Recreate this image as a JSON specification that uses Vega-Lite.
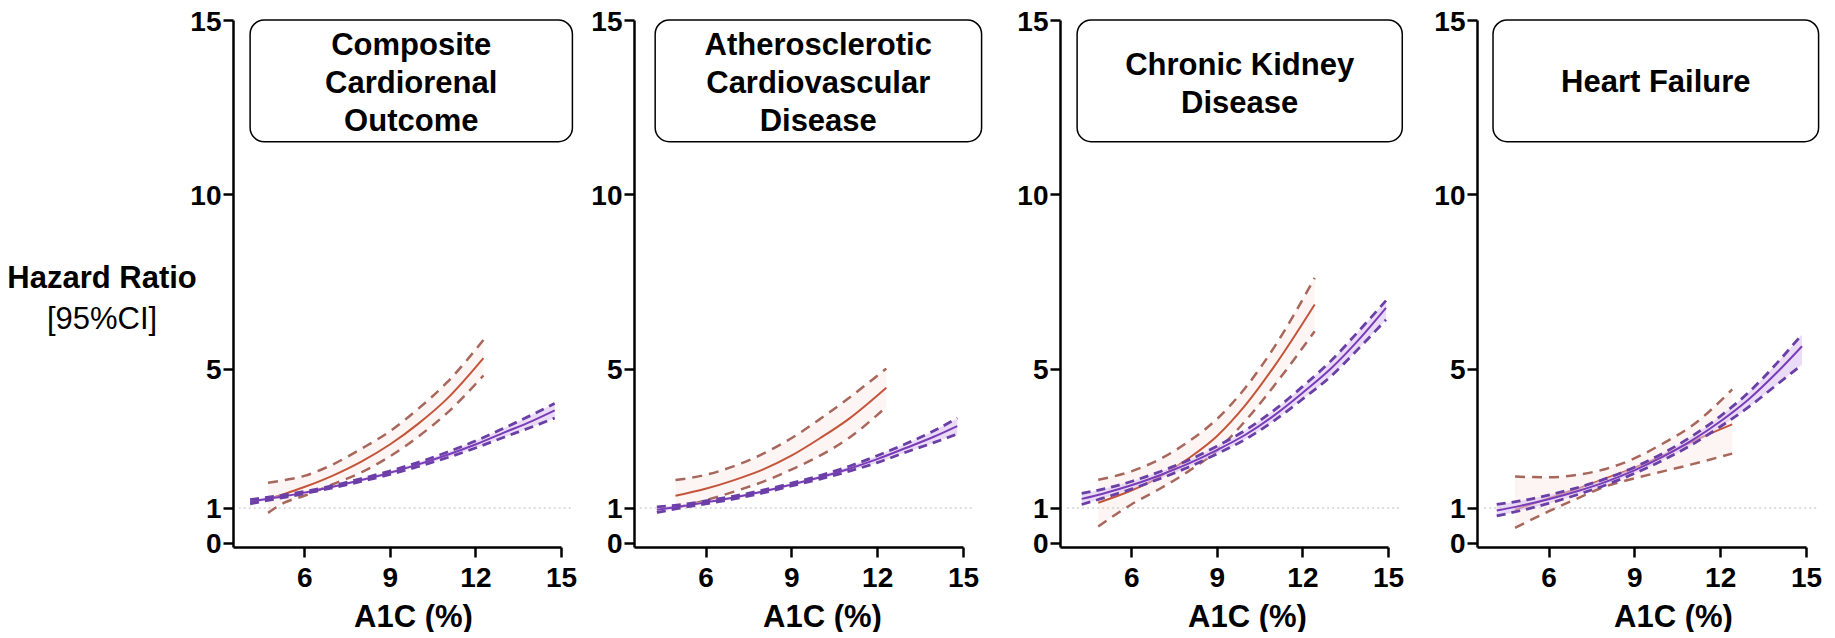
{
  "$schema": "https://vega.github.io/schema/vega-lite/v6.json",
  "background": "white",
  "padding": {"left": 0, "top": 8, "right": 0, "bottom": 0},
  "spacing": 0,
  "bounds": "flush",
  "datasets": {
    "curves": [
      {"outcome": "Composite Cardiorenal Outcome", "series": "A", "a1c": 4.73, "hr": 1.25, "lo": 0.86, "hi": 1.72},
      {"outcome": "Composite Cardiorenal Outcome", "series": "A", "a1c": 5.3, "hr": 1.4, "lo": 1.15, "hi": 1.8},
      {"outcome": "Composite Cardiorenal Outcome", "series": "A", "a1c": 6, "hr": 1.6, "lo": 1.35, "hi": 1.92},
      {"outcome": "Composite Cardiorenal Outcome", "series": "A", "a1c": 7, "hr": 1.93, "lo": 1.68, "hi": 2.25},
      {"outcome": "Composite Cardiorenal Outcome", "series": "A", "a1c": 8, "hr": 2.33, "lo": 2.02, "hi": 2.7},
      {"outcome": "Composite Cardiorenal Outcome", "series": "A", "a1c": 9, "hr": 2.82, "lo": 2.48, "hi": 3.2},
      {"outcome": "Composite Cardiorenal Outcome", "series": "A", "a1c": 10, "hr": 3.42, "lo": 3.05, "hi": 3.85},
      {"outcome": "Composite Cardiorenal Outcome", "series": "A", "a1c": 11, "hr": 4.13, "lo": 3.72, "hi": 4.6},
      {"outcome": "Composite Cardiorenal Outcome", "series": "A", "a1c": 12.28, "hr": 5.3, "lo": 4.8, "hi": 5.82},
      {"outcome": "Composite Cardiorenal Outcome", "series": "B", "a1c": 4.1, "hr": 1.18, "lo": 1.12, "hi": 1.24},
      {"outcome": "Composite Cardiorenal Outcome", "series": "B", "a1c": 5, "hr": 1.3, "lo": 1.26, "hi": 1.34},
      {"outcome": "Composite Cardiorenal Outcome", "series": "B", "a1c": 6, "hr": 1.44, "lo": 1.41, "hi": 1.47},
      {"outcome": "Composite Cardiorenal Outcome", "series": "B", "a1c": 7, "hr": 1.61, "lo": 1.58, "hi": 1.64},
      {"outcome": "Composite Cardiorenal Outcome", "series": "B", "a1c": 8, "hr": 1.8, "lo": 1.76, "hi": 1.84},
      {"outcome": "Composite Cardiorenal Outcome", "series": "B", "a1c": 9, "hr": 2.01, "lo": 1.96, "hi": 2.06},
      {"outcome": "Composite Cardiorenal Outcome", "series": "B", "a1c": 10, "hr": 2.25, "lo": 2.19, "hi": 2.31},
      {"outcome": "Composite Cardiorenal Outcome", "series": "B", "a1c": 11, "hr": 2.52, "lo": 2.44, "hi": 2.6},
      {"outcome": "Composite Cardiorenal Outcome", "series": "B", "a1c": 12, "hr": 2.82, "lo": 2.72, "hi": 2.92},
      {"outcome": "Composite Cardiorenal Outcome", "series": "B", "a1c": 13, "hr": 3.16, "lo": 3.03, "hi": 3.29},
      {"outcome": "Composite Cardiorenal Outcome", "series": "B", "a1c": 14, "hr": 3.5, "lo": 3.33, "hi": 3.68},
      {"outcome": "Composite Cardiorenal Outcome", "series": "B", "a1c": 14.78, "hr": 3.8, "lo": 3.58, "hi": 4.0},
      {"outcome": "Atherosclerotic Cardiovascular Disease", "series": "A", "a1c": 4.95, "hr": 1.35, "lo": 1.0, "hi": 1.8},
      {"outcome": "Atherosclerotic Cardiovascular Disease", "series": "A", "a1c": 6, "hr": 1.55, "lo": 1.22, "hi": 1.95},
      {"outcome": "Atherosclerotic Cardiovascular Disease", "series": "A", "a1c": 7, "hr": 1.8, "lo": 1.47, "hi": 2.2},
      {"outcome": "Atherosclerotic Cardiovascular Disease", "series": "A", "a1c": 8, "hr": 2.1, "lo": 1.75, "hi": 2.55},
      {"outcome": "Atherosclerotic Cardiovascular Disease", "series": "A", "a1c": 9, "hr": 2.5, "lo": 2.1, "hi": 3.0},
      {"outcome": "Atherosclerotic Cardiovascular Disease", "series": "A", "a1c": 10, "hr": 3.0, "lo": 2.5, "hi": 3.55},
      {"outcome": "Atherosclerotic Cardiovascular Disease", "series": "A", "a1c": 11, "hr": 3.55, "lo": 3.0, "hi": 4.15},
      {"outcome": "Atherosclerotic Cardiovascular Disease", "series": "A", "a1c": 12.32, "hr": 4.45, "lo": 3.9, "hi": 5.0},
      {"outcome": "Atherosclerotic Cardiovascular Disease", "series": "B", "a1c": 4.3, "hr": 0.95, "lo": 0.87, "hi": 1.03},
      {"outcome": "Atherosclerotic Cardiovascular Disease", "series": "B", "a1c": 5, "hr": 1.03, "lo": 0.98, "hi": 1.08},
      {"outcome": "Atherosclerotic Cardiovascular Disease", "series": "B", "a1c": 6, "hr": 1.16, "lo": 1.12, "hi": 1.2},
      {"outcome": "Atherosclerotic Cardiovascular Disease", "series": "B", "a1c": 7, "hr": 1.3, "lo": 1.26, "hi": 1.34},
      {"outcome": "Atherosclerotic Cardiovascular Disease", "series": "B", "a1c": 8, "hr": 1.47, "lo": 1.43, "hi": 1.51},
      {"outcome": "Atherosclerotic Cardiovascular Disease", "series": "B", "a1c": 9, "hr": 1.67, "lo": 1.63, "hi": 1.71},
      {"outcome": "Atherosclerotic Cardiovascular Disease", "series": "B", "a1c": 10, "hr": 1.88, "lo": 1.83, "hi": 1.93},
      {"outcome": "Atherosclerotic Cardiovascular Disease", "series": "B", "a1c": 11, "hr": 2.12, "lo": 2.05, "hi": 2.19},
      {"outcome": "Atherosclerotic Cardiovascular Disease", "series": "B", "a1c": 12, "hr": 2.4, "lo": 2.3, "hi": 2.5},
      {"outcome": "Atherosclerotic Cardiovascular Disease", "series": "B", "a1c": 13, "hr": 2.72, "lo": 2.6, "hi": 2.84},
      {"outcome": "Atherosclerotic Cardiovascular Disease", "series": "B", "a1c": 14, "hr": 3.05, "lo": 2.88, "hi": 3.22},
      {"outcome": "Atherosclerotic Cardiovascular Disease", "series": "B", "a1c": 14.8, "hr": 3.35, "lo": 3.12, "hi": 3.58},
      {"outcome": "Chronic Kidney Disease", "series": "A", "a1c": 4.84, "hr": 1.15, "lo": 0.47, "hi": 1.81},
      {"outcome": "Chronic Kidney Disease", "series": "A", "a1c": 6, "hr": 1.5, "lo": 1.1, "hi": 2.05},
      {"outcome": "Chronic Kidney Disease", "series": "A", "a1c": 7, "hr": 1.9, "lo": 1.55, "hi": 2.4},
      {"outcome": "Chronic Kidney Disease", "series": "A", "a1c": 8, "hr": 2.42, "lo": 2.05, "hi": 2.9},
      {"outcome": "Chronic Kidney Disease", "series": "A", "a1c": 9, "hr": 3.06, "lo": 2.65, "hi": 3.55},
      {"outcome": "Chronic Kidney Disease", "series": "A", "a1c": 10, "hr": 3.95, "lo": 3.5, "hi": 4.45},
      {"outcome": "Chronic Kidney Disease", "series": "A", "a1c": 11, "hr": 5.05, "lo": 4.5, "hi": 5.6},
      {"outcome": "Chronic Kidney Disease", "series": "A", "a1c": 12.43, "hr": 6.84, "lo": 6.07, "hi": 7.6},
      {"outcome": "Chronic Kidney Disease", "series": "B", "a1c": 4.26, "hr": 1.26, "lo": 1.1, "hi": 1.42},
      {"outcome": "Chronic Kidney Disease", "series": "B", "a1c": 5, "hr": 1.41, "lo": 1.28, "hi": 1.54},
      {"outcome": "Chronic Kidney Disease", "series": "B", "a1c": 6, "hr": 1.65, "lo": 1.54, "hi": 1.76},
      {"outcome": "Chronic Kidney Disease", "series": "B", "a1c": 7, "hr": 1.94, "lo": 1.84, "hi": 2.04},
      {"outcome": "Chronic Kidney Disease", "series": "B", "a1c": 8, "hr": 2.27, "lo": 2.17, "hi": 2.37},
      {"outcome": "Chronic Kidney Disease", "series": "B", "a1c": 9, "hr": 2.66, "lo": 2.55, "hi": 2.77},
      {"outcome": "Chronic Kidney Disease", "series": "B", "a1c": 10, "hr": 3.1, "lo": 2.97, "hi": 3.23},
      {"outcome": "Chronic Kidney Disease", "series": "B", "a1c": 11, "hr": 3.65, "lo": 3.5, "hi": 3.8},
      {"outcome": "Chronic Kidney Disease", "series": "B", "a1c": 12, "hr": 4.3, "lo": 4.12, "hi": 4.48},
      {"outcome": "Chronic Kidney Disease", "series": "B", "a1c": 13, "hr": 5.0, "lo": 4.78, "hi": 5.22},
      {"outcome": "Chronic Kidney Disease", "series": "B", "a1c": 14, "hr": 5.85, "lo": 5.6, "hi": 6.1},
      {"outcome": "Chronic Kidney Disease", "series": "B", "a1c": 14.93, "hr": 6.74, "lo": 6.4, "hi": 6.95},
      {"outcome": "Heart Failure", "series": "A", "a1c": 4.83, "hr": 0.95, "lo": 0.43, "hi": 1.9},
      {"outcome": "Heart Failure", "series": "A", "a1c": 6, "hr": 1.27, "lo": 0.9, "hi": 1.88},
      {"outcome": "Heart Failure", "series": "A", "a1c": 7, "hr": 1.55, "lo": 1.27, "hi": 1.95},
      {"outcome": "Heart Failure", "series": "A", "a1c": 8, "hr": 1.85, "lo": 1.62, "hi": 2.12},
      {"outcome": "Heart Failure", "series": "A", "a1c": 9, "hr": 2.15, "lo": 1.85, "hi": 2.42},
      {"outcome": "Heart Failure", "series": "A", "a1c": 10, "hr": 2.5, "lo": 2.05, "hi": 2.85},
      {"outcome": "Heart Failure", "series": "A", "a1c": 11, "hr": 2.9, "lo": 2.25, "hi": 3.35},
      {"outcome": "Heart Failure", "series": "A", "a1c": 12.42, "hr": 3.4, "lo": 2.56, "hi": 4.4},
      {"outcome": "Heart Failure", "series": "B", "a1c": 4.19, "hr": 0.93, "lo": 0.77, "hi": 1.1},
      {"outcome": "Heart Failure", "series": "B", "a1c": 5, "hr": 1.06, "lo": 0.92, "hi": 1.2},
      {"outcome": "Heart Failure", "series": "B", "a1c": 6, "hr": 1.25, "lo": 1.13, "hi": 1.37},
      {"outcome": "Heart Failure", "series": "B", "a1c": 7, "hr": 1.48, "lo": 1.38, "hi": 1.58},
      {"outcome": "Heart Failure", "series": "B", "a1c": 8, "hr": 1.75, "lo": 1.66, "hi": 1.84},
      {"outcome": "Heart Failure", "series": "B", "a1c": 9, "hr": 2.08, "lo": 1.99, "hi": 2.17},
      {"outcome": "Heart Failure", "series": "B", "a1c": 10, "hr": 2.47, "lo": 2.37, "hi": 2.57},
      {"outcome": "Heart Failure", "series": "B", "a1c": 11, "hr": 2.93, "lo": 2.81, "hi": 3.05},
      {"outcome": "Heart Failure", "series": "B", "a1c": 12, "hr": 3.48, "lo": 3.33, "hi": 3.63},
      {"outcome": "Heart Failure", "series": "B", "a1c": 13, "hr": 4.12, "lo": 3.9, "hi": 4.32},
      {"outcome": "Heart Failure", "series": "B", "a1c": 14, "hr": 4.9, "lo": 4.55, "hi": 5.17},
      {"outcome": "Heart Failure", "series": "B", "a1c": 14.86, "hr": 5.64, "lo": 5.11, "hi": 5.98}
    ]
  },
  "hconcat": [
    {
      "width": 233, "height": 527,
      "data": {"values": [{}]},
      "layer": [
        {"mark": {"type": "text", "fontSize": 31, "fontWeight": "bold", "align": "center", "baseline": "middle", "color": "black"},
         "encoding": {"x": {"datum": 0.438, "type": "quantitative", "scale": {"domain": [0, 1]}, "axis": null},
                      "y": {"datum": 7.57, "type": "quantitative", "scale": {"domain": [-0.12, 15], "nice": false, "zero": false}, "axis": null},
                      "text": {"value": "Hazard Ratio"}}},
        {"mark": {"type": "text", "fontSize": 31, "fontWeight": "normal", "align": "center", "baseline": "middle", "color": "black"},
         "encoding": {"x": {"datum": 0.438, "type": "quantitative", "axis": null},
                      "y": {"datum": 6.39, "type": "quantitative", "axis": null},
                      "text": {"value": "[95%CI]"}}}
      ]
    },
    {
      "width": 328, "height": 527,
      "data": {"name": "curves"},
      "layer": [
        {"transform": [{"filter": "datum.outcome === 'Composite Cardiorenal Outcome' && datum.series === 'A'"}],
         "mark": {"type": "area", "interpolate": "monotone", "color": "#f7e3dd", "opacity": 0.35},
         "encoding": {"x": {"field": "a1c", "type": "quantitative", "scale": {"domain": [3.5, 15], "nice": false, "zero": false}, "axis": {"values": [6, 9, 12, 15], "title": "A1C (%)", "titleX": 180}},
                      "y": {"field": "lo", "type": "quantitative", "scale": {"domain": [-0.12, 15], "nice": false, "zero": false}, "axis": {"values": [0, 1, 5, 10, 15], "title": null}},
                      "y2": {"field": "hi"}}},
        {"data": {"values": [{}]}, "mark": {"type": "rule", "color": "#d2d2d2", "strokeWidth": 1.5, "strokeDash": [2, 3]},
         "encoding": {"x": {"datum": 3.7, "type": "quantitative"}, "x2": {"datum": 15.4}, "y": {"datum": 1, "type": "quantitative"}}},
        {"transform": [{"filter": "datum.outcome === 'Composite Cardiorenal Outcome' && datum.series === 'A'"}],
         "mark": {"type": "line", "interpolate": "monotone", "color": "#c4553b", "strokeWidth": 2},
         "encoding": {"x": {"field": "a1c", "type": "quantitative"}, "y": {"field": "hr", "type": "quantitative"}}},
        {"transform": [{"filter": "datum.outcome === 'Composite Cardiorenal Outcome' && datum.series === 'A'"}],
         "mark": {"type": "line", "interpolate": "monotone", "color": "#a8675c", "strokeWidth": 2.5, "strokeDash": [10, 7]},
         "encoding": {"x": {"field": "a1c", "type": "quantitative"}, "y": {"field": "lo", "type": "quantitative"}}},
        {"transform": [{"filter": "datum.outcome === 'Composite Cardiorenal Outcome' && datum.series === 'A'"}],
         "mark": {"type": "line", "interpolate": "monotone", "color": "#a8675c", "strokeWidth": 2.5, "strokeDash": [10, 7]},
         "encoding": {"x": {"field": "a1c", "type": "quantitative"}, "y": {"field": "hi", "type": "quantitative"}}},
        {"transform": [{"filter": "datum.outcome === 'Composite Cardiorenal Outcome' && datum.series === 'B'"}],
         "mark": {"type": "area", "interpolate": "monotone", "color": "#dcc4f2", "opacity": 0.6},
         "encoding": {"x": {"field": "a1c", "type": "quantitative"}, "y": {"field": "lo", "type": "quantitative"}, "y2": {"field": "hi"}}},
        {"transform": [{"filter": "datum.outcome === 'Composite Cardiorenal Outcome' && datum.series === 'B'"}],
         "mark": {"type": "line", "interpolate": "monotone", "color": "#7a3cb8", "strokeWidth": 2},
         "encoding": {"x": {"field": "a1c", "type": "quantitative"}, "y": {"field": "hr", "type": "quantitative"}}},
        {"transform": [{"filter": "datum.outcome === 'Composite Cardiorenal Outcome' && datum.series === 'B'"}],
         "mark": {"type": "line", "interpolate": "monotone", "color": "#6a3fa6", "strokeWidth": 2.8, "strokeDash": [9, 6]},
         "encoding": {"x": {"field": "a1c", "type": "quantitative"}, "y": {"field": "lo", "type": "quantitative"}}},
        {"transform": [{"filter": "datum.outcome === 'Composite Cardiorenal Outcome' && datum.series === 'B'"}],
         "mark": {"type": "line", "interpolate": "monotone", "color": "#6a3fa6", "strokeWidth": 2.8, "strokeDash": [9, 6]},
         "encoding": {"x": {"field": "a1c", "type": "quantitative"}, "y": {"field": "hi", "type": "quantitative"}}},
        {"data": {"values": [{}]}, "mark": {"type": "rect", "cornerRadius": 14, "fill": "white", "stroke": "black", "strokeWidth": 1.5},
         "encoding": {"x": {"datum": 4.1, "type": "quantitative"}, "x2": {"datum": 15.4}, "y": {"datum": 15, "type": "quantitative"}, "y2": {"datum": 11.51}}},
        {"data": {"values": [{}]}, "mark": {"type": "text", "fontSize": 31, "fontWeight": "bold", "lineHeight": 38, "align": "center", "baseline": "middle", "color": "black"},
         "encoding": {"x": {"datum": 9.75, "type": "quantitative"}, "y": {"datum": 14.24, "type": "quantitative"}, "text": {"value": ["Composite", "Cardiorenal", "Outcome"]}}}
      ]
    },
    {"width": 73, "height": 527, "data": {"values": []}, "mark": {"type": "point", "opacity": 0}},
    {
      "width": 329, "height": 527,
      "data": {"name": "curves"},
      "layer": [
        {"transform": [{"filter": "datum.outcome === 'Atherosclerotic Cardiovascular Disease' && datum.series === 'A'"}],
         "mark": {"type": "area", "interpolate": "monotone", "color": "#f7e3dd", "opacity": 0.35},
         "encoding": {"x": {"field": "a1c", "type": "quantitative", "scale": {"domain": [3.5, 15], "nice": false, "zero": false}, "axis": {"values": [6, 9, 12, 15], "title": "A1C (%)", "titleX": 188}},
                      "y": {"field": "lo", "type": "quantitative", "scale": {"domain": [-0.12, 15], "nice": false, "zero": false}, "axis": {"values": [0, 1, 5, 10, 15], "title": null}},
                      "y2": {"field": "hi"}}},
        {"data": {"values": [{}]}, "mark": {"type": "rule", "color": "#d2d2d2", "strokeWidth": 1.5, "strokeDash": [2, 3]},
         "encoding": {"x": {"datum": 3.7, "type": "quantitative"}, "x2": {"datum": 15.4}, "y": {"datum": 1, "type": "quantitative"}}},
        {"transform": [{"filter": "datum.outcome === 'Atherosclerotic Cardiovascular Disease' && datum.series === 'A'"}],
         "mark": {"type": "line", "interpolate": "monotone", "color": "#c4553b", "strokeWidth": 2},
         "encoding": {"x": {"field": "a1c", "type": "quantitative"}, "y": {"field": "hr", "type": "quantitative"}}},
        {"transform": [{"filter": "datum.outcome === 'Atherosclerotic Cardiovascular Disease' && datum.series === 'A'"}],
         "mark": {"type": "line", "interpolate": "monotone", "color": "#a8675c", "strokeWidth": 2.5, "strokeDash": [10, 7]},
         "encoding": {"x": {"field": "a1c", "type": "quantitative"}, "y": {"field": "lo", "type": "quantitative"}}},
        {"transform": [{"filter": "datum.outcome === 'Atherosclerotic Cardiovascular Disease' && datum.series === 'A'"}],
         "mark": {"type": "line", "interpolate": "monotone", "color": "#a8675c", "strokeWidth": 2.5, "strokeDash": [10, 7]},
         "encoding": {"x": {"field": "a1c", "type": "quantitative"}, "y": {"field": "hi", "type": "quantitative"}}},
        {"transform": [{"filter": "datum.outcome === 'Atherosclerotic Cardiovascular Disease' && datum.series === 'B'"}],
         "mark": {"type": "area", "interpolate": "monotone", "color": "#dcc4f2", "opacity": 0.6},
         "encoding": {"x": {"field": "a1c", "type": "quantitative"}, "y": {"field": "lo", "type": "quantitative"}, "y2": {"field": "hi"}}},
        {"transform": [{"filter": "datum.outcome === 'Atherosclerotic Cardiovascular Disease' && datum.series === 'B'"}],
         "mark": {"type": "line", "interpolate": "monotone", "color": "#7a3cb8", "strokeWidth": 2},
         "encoding": {"x": {"field": "a1c", "type": "quantitative"}, "y": {"field": "hr", "type": "quantitative"}}},
        {"transform": [{"filter": "datum.outcome === 'Atherosclerotic Cardiovascular Disease' && datum.series === 'B'"}],
         "mark": {"type": "line", "interpolate": "monotone", "color": "#6a3fa6", "strokeWidth": 2.8, "strokeDash": [9, 6]},
         "encoding": {"x": {"field": "a1c", "type": "quantitative"}, "y": {"field": "lo", "type": "quantitative"}}},
        {"transform": [{"filter": "datum.outcome === 'Atherosclerotic Cardiovascular Disease' && datum.series === 'B'"}],
         "mark": {"type": "line", "interpolate": "monotone", "color": "#6a3fa6", "strokeWidth": 2.8, "strokeDash": [9, 6]},
         "encoding": {"x": {"field": "a1c", "type": "quantitative"}, "y": {"field": "hi", "type": "quantitative"}}},
        {"data": {"values": [{}]}, "mark": {"type": "rect", "cornerRadius": 14, "fill": "white", "stroke": "black", "strokeWidth": 1.5},
         "encoding": {"x": {"datum": 4.24, "type": "quantitative"}, "x2": {"datum": 15.65}, "y": {"datum": 15, "type": "quantitative"}, "y2": {"datum": 11.51}}},
        {"data": {"values": [{}]}, "mark": {"type": "text", "fontSize": 31, "fontWeight": "bold", "lineHeight": 38, "align": "center", "baseline": "middle", "color": "black"},
         "encoding": {"x": {"datum": 9.94, "type": "quantitative"}, "y": {"datum": 14.24, "type": "quantitative"}, "text": {"value": ["Atherosclerotic", "Cardiovascular", "Disease"]}}}
      ]
    },
    {"width": 97, "height": 527, "data": {"values": []}, "mark": {"type": "point", "opacity": 0}},
    {
      "width": 328, "height": 527,
      "data": {"name": "curves"},
      "layer": [
        {"transform": [{"filter": "datum.outcome === 'Chronic Kidney Disease' && datum.series === 'A'"}],
         "mark": {"type": "area", "interpolate": "monotone", "color": "#f7e3dd", "opacity": 0.35},
         "encoding": {"x": {"field": "a1c", "type": "quantitative", "scale": {"domain": [3.5, 15], "nice": false, "zero": false}, "axis": {"values": [6, 9, 12, 15], "title": "A1C (%)", "titleX": 187}},
                      "y": {"field": "lo", "type": "quantitative", "scale": {"domain": [-0.12, 15], "nice": false, "zero": false}, "axis": {"values": [0, 1, 5, 10, 15], "title": null}},
                      "y2": {"field": "hi"}}},
        {"data": {"values": [{}]}, "mark": {"type": "rule", "color": "#d2d2d2", "strokeWidth": 1.5, "strokeDash": [2, 3]},
         "encoding": {"x": {"datum": 3.75, "type": "quantitative"}, "x2": {"datum": 15.5}, "y": {"datum": 1, "type": "quantitative"}}},
        {"transform": [{"filter": "datum.outcome === 'Chronic Kidney Disease' && datum.series === 'A'"}],
         "mark": {"type": "line", "interpolate": "monotone", "color": "#c4553b", "strokeWidth": 2},
         "encoding": {"x": {"field": "a1c", "type": "quantitative"}, "y": {"field": "hr", "type": "quantitative"}}},
        {"transform": [{"filter": "datum.outcome === 'Chronic Kidney Disease' && datum.series === 'A'"}],
         "mark": {"type": "line", "interpolate": "monotone", "color": "#a8675c", "strokeWidth": 2.5, "strokeDash": [10, 7]},
         "encoding": {"x": {"field": "a1c", "type": "quantitative"}, "y": {"field": "lo", "type": "quantitative"}}},
        {"transform": [{"filter": "datum.outcome === 'Chronic Kidney Disease' && datum.series === 'A'"}],
         "mark": {"type": "line", "interpolate": "monotone", "color": "#a8675c", "strokeWidth": 2.5, "strokeDash": [10, 7]},
         "encoding": {"x": {"field": "a1c", "type": "quantitative"}, "y": {"field": "hi", "type": "quantitative"}}},
        {"transform": [{"filter": "datum.outcome === 'Chronic Kidney Disease' && datum.series === 'B'"}],
         "mark": {"type": "area", "interpolate": "monotone", "color": "#dcc4f2", "opacity": 0.6},
         "encoding": {"x": {"field": "a1c", "type": "quantitative"}, "y": {"field": "lo", "type": "quantitative"}, "y2": {"field": "hi"}}},
        {"transform": [{"filter": "datum.outcome === 'Chronic Kidney Disease' && datum.series === 'B'"}],
         "mark": {"type": "line", "interpolate": "monotone", "color": "#7a3cb8", "strokeWidth": 2},
         "encoding": {"x": {"field": "a1c", "type": "quantitative"}, "y": {"field": "hr", "type": "quantitative"}}},
        {"transform": [{"filter": "datum.outcome === 'Chronic Kidney Disease' && datum.series === 'B'"}],
         "mark": {"type": "line", "interpolate": "monotone", "color": "#6a3fa6", "strokeWidth": 2.8, "strokeDash": [9, 6]},
         "encoding": {"x": {"field": "a1c", "type": "quantitative"}, "y": {"field": "lo", "type": "quantitative"}}},
        {"transform": [{"filter": "datum.outcome === 'Chronic Kidney Disease' && datum.series === 'B'"}],
         "mark": {"type": "line", "interpolate": "monotone", "color": "#6a3fa6", "strokeWidth": 2.8, "strokeDash": [9, 6]},
         "encoding": {"x": {"field": "a1c", "type": "quantitative"}, "y": {"field": "hi", "type": "quantitative"}}},
        {"data": {"values": [{}]}, "mark": {"type": "rect", "cornerRadius": 14, "fill": "white", "stroke": "black", "strokeWidth": 1.5},
         "encoding": {"x": {"datum": 4.1, "type": "quantitative"}, "x2": {"datum": 15.5}, "y": {"datum": 15, "type": "quantitative"}, "y2": {"datum": 11.51}}},
        {"data": {"values": [{}]}, "mark": {"type": "text", "fontSize": 31, "fontWeight": "bold", "lineHeight": 38, "align": "center", "baseline": "middle", "color": "black"},
         "encoding": {"x": {"datum": 9.8, "type": "quantitative"}, "y": {"datum": 13.69, "type": "quantitative"}, "text": {"value": ["Chronic Kidney", "Disease"]}}}
      ]
    },
    {"width": 89, "height": 527, "data": {"values": []}, "mark": {"type": "point", "opacity": 0}},
    {
      "width": 329, "height": 527,
      "data": {"name": "curves"},
      "layer": [
        {"transform": [{"filter": "datum.outcome === 'Heart Failure' && datum.series === 'A'"}],
         "mark": {"type": "area", "interpolate": "monotone", "color": "#f7e3dd", "opacity": 0.35},
         "encoding": {"x": {"field": "a1c", "type": "quantitative", "scale": {"domain": [3.5, 15], "nice": false, "zero": false}, "axis": {"values": [6, 9, 12, 15], "title": "A1C (%)", "titleX": 196}},
                      "y": {"field": "lo", "type": "quantitative", "scale": {"domain": [-0.12, 15], "nice": false, "zero": false}, "axis": {"values": [0, 1, 5, 10, 15], "title": null}},
                      "y2": {"field": "hi"}}},
        {"data": {"values": [{}]}, "mark": {"type": "rule", "color": "#d2d2d2", "strokeWidth": 1.5, "strokeDash": [2, 3]},
         "encoding": {"x": {"datum": 3.75, "type": "quantitative"}, "x2": {"datum": 15.4}, "y": {"datum": 1, "type": "quantitative"}}},
        {"transform": [{"filter": "datum.outcome === 'Heart Failure' && datum.series === 'A'"}],
         "mark": {"type": "line", "interpolate": "monotone", "color": "#c4553b", "strokeWidth": 2},
         "encoding": {"x": {"field": "a1c", "type": "quantitative"}, "y": {"field": "hr", "type": "quantitative"}}},
        {"transform": [{"filter": "datum.outcome === 'Heart Failure' && datum.series === 'A'"}],
         "mark": {"type": "line", "interpolate": "monotone", "color": "#a8675c", "strokeWidth": 2.5, "strokeDash": [10, 7]},
         "encoding": {"x": {"field": "a1c", "type": "quantitative"}, "y": {"field": "lo", "type": "quantitative"}}},
        {"transform": [{"filter": "datum.outcome === 'Heart Failure' && datum.series === 'A'"}],
         "mark": {"type": "line", "interpolate": "monotone", "color": "#a8675c", "strokeWidth": 2.5, "strokeDash": [10, 7]},
         "encoding": {"x": {"field": "a1c", "type": "quantitative"}, "y": {"field": "hi", "type": "quantitative"}}},
        {"transform": [{"filter": "datum.outcome === 'Heart Failure' && datum.series === 'B'"}],
         "mark": {"type": "area", "interpolate": "monotone", "color": "#dcc4f2", "opacity": 0.6},
         "encoding": {"x": {"field": "a1c", "type": "quantitative"}, "y": {"field": "lo", "type": "quantitative"}, "y2": {"field": "hi"}}},
        {"transform": [{"filter": "datum.outcome === 'Heart Failure' && datum.series === 'B'"}],
         "mark": {"type": "line", "interpolate": "monotone", "color": "#7a3cb8", "strokeWidth": 2},
         "encoding": {"x": {"field": "a1c", "type": "quantitative"}, "y": {"field": "hr", "type": "quantitative"}}},
        {"transform": [{"filter": "datum.outcome === 'Heart Failure' && datum.series === 'B'"}],
         "mark": {"type": "line", "interpolate": "monotone", "color": "#6a3fa6", "strokeWidth": 2.8, "strokeDash": [9, 6]},
         "encoding": {"x": {"field": "a1c", "type": "quantitative"}, "y": {"field": "lo", "type": "quantitative"}}},
        {"transform": [{"filter": "datum.outcome === 'Heart Failure' && datum.series === 'B'"}],
         "mark": {"type": "line", "interpolate": "monotone", "color": "#6a3fa6", "strokeWidth": 2.8, "strokeDash": [9, 6]},
         "encoding": {"x": {"field": "a1c", "type": "quantitative"}, "y": {"field": "hi", "type": "quantitative"}}},
        {"data": {"values": [{}]}, "mark": {"type": "rect", "cornerRadius": 14, "fill": "white", "stroke": "black", "strokeWidth": 1.5},
         "encoding": {"x": {"datum": 4.06, "type": "quantitative"}, "x2": {"datum": 15.44}, "y": {"datum": 15, "type": "quantitative"}, "y2": {"datum": 11.51}}},
        {"data": {"values": [{}]}, "mark": {"type": "text", "fontSize": 31, "fontWeight": "bold", "lineHeight": 38, "align": "center", "baseline": "middle", "color": "black"},
         "encoding": {"x": {"datum": 9.75, "type": "quantitative"}, "y": {"datum": 13.2, "type": "quantitative"}, "text": {"value": "Heart Failure"}}}
      ]
    }
  ],
  "config": {
    "font": "Liberation Sans",
    "view": {"stroke": null},
    "axis": {
      "grid": false,
      "domainColor": "black", "domainWidth": 2.5,
      "tickColor": "black", "tickWidth": 2.5, "tickSize": 10,
      "labelFont": "Liberation Sans", "labelFontSize": 28, "labelFontWeight": "bold", "labelColor": "black",
      "labelFlush": false, "labelOverlap": false,
      "titleFont": "Liberation Sans", "titleFontSize": 31, "titleFontWeight": "bold", "titleColor": "black"
    },
    "axisX": {"labelPadding": 7, "titlePadding": 10},
    "axisY": {"labelPadding": 2, "labelOffset": 2}
  }
}
